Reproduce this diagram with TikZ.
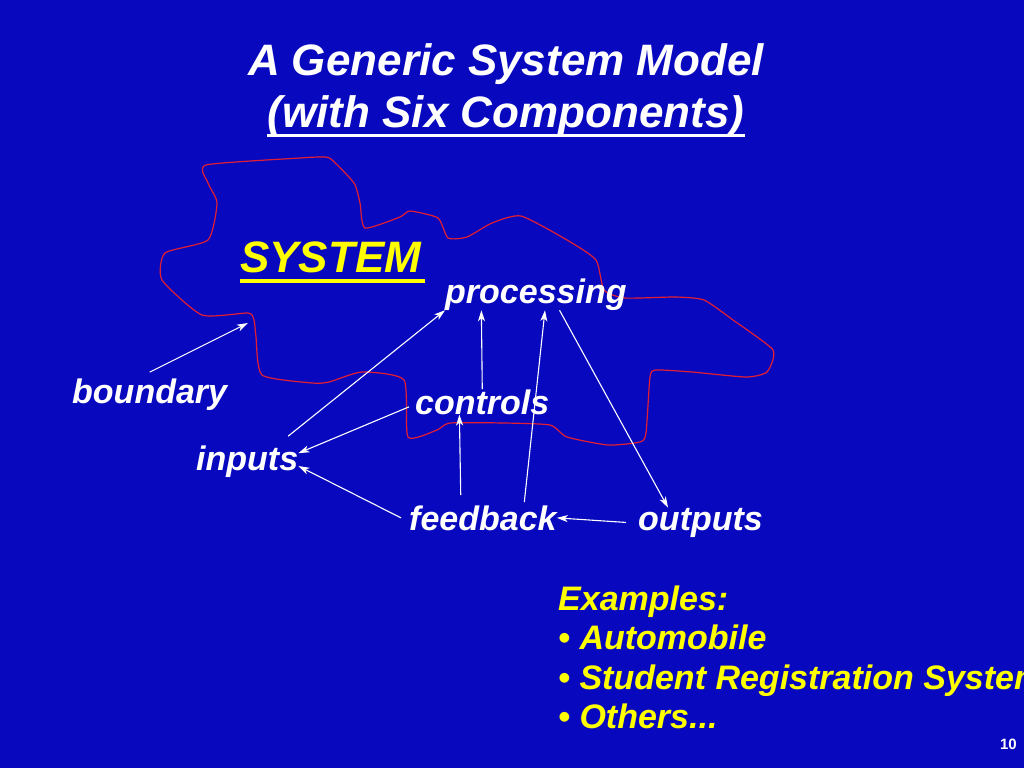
\documentclass[tikz,border=0pt]{standalone}
\usepackage{fontspec}
\setmainfont{Liberation Sans}
\usepackage{tikz}
\usetikzlibrary{positioning,calc,arrows.meta}
\usepackage{xcolor}
\definecolor{slideblue}{RGB}{8,8,190}
\definecolor{edgered}{RGB}{225,30,50}
\definecolor{sysyellow}{RGB}{255,255,0}

\begin{document}
\begin{tikzpicture}[
    x=1pt, y=-1pt,
    part/.style={anchor=base west, inner sep=0pt, text=white, font=\fontsize{34}{40}\selectfont\bfseries\itshape},
    heading/.style={anchor=base, inner sep=0pt, text=white, font=\fontsize{44}{52}\selectfont\bfseries\itshape},
    example/.style={part, text=sysyellow},
    link/.style={-{Stealth[length=11pt,width=7pt,inset=3pt]}, white, line width=1.1pt}
]
    % Slide background
    \fill[slideblue] (0,0) rectangle (1024,768);
    \useasboundingbox (0,0) rectangle (1024,768);
    \clip (0,0) rectangle (1024,768);

    % Title
    \node[heading] (title1) at (506,75) {A Generic System Model};
    \node[heading] (title2) at (506,127) {(with Six Components)};
    \draw[white, line width=3pt] ([yshift=-8pt]title2.base west) -- ([yshift=-8pt]title2.base east);

    % System boundary
    \draw[edgered, line width=1.2pt] plot[smooth cycle, tension=0.35] coordinates {
        (206,165) (300,158) (321,157) (331,159) (354,183) (360,203) (365,228)
        (400,217) (410,211) (438,218) (448,238) (467,237) (492,223) (521,216)
        (567,240) (596,260) (604,290) (625,298) (675,297) (704,300) (733,320)
        (773,350) (767,372) (746,377) (692,372) (656,370) (650,377) (646,433)
        (640,442) (608,445) (567,437) (550,425) (504,423) (450,423) (437,430)
        (408,437) (404,380) (362,372) (329,382) (312,383) (262,375) (256,337)
        (254,320) (248,313) (202,315) (162,280) (165,253) (208,240) (217,203)
        (208,183)};
    \coordinate (edgept) at (248,323);

    % Labels
    \node[part, text=sysyellow, font=\fontsize{44}{52}\selectfont\bfseries\itshape] (sys) at (240,272) {SYSTEM};
    \draw[sysyellow, line width=4pt] ([yshift=-9pt]sys.base west) -- ([yshift=-9pt,xshift=4pt]sys.base east);
    \node[part] (proc) at (445,303) {processing};
    \node[part] (bnd) at (72,403) {boundary};
    \node[part] (ctl) at (415,414) {controls};
    \node[part] (inp) at (196,470) {inputs};
    \node[part] (fb) at (409,530) {feedback};
    \node[part] (out) at (638,530) {outputs};

    % Connectors
    \draw[link] ([yshift=6pt]bnd.north) -- (edgept);
    \draw[link] ($(inp.north west)!0.9!(inp.north east)+(0,-9)$) -- (proc.south west);
    \draw[link] ([xshift=-6pt,yshift=-5pt]ctl.west) -- ($(inp.north east)!0.25!(inp.south east)$);
    \draw[link] ([xshift=-8pt]fb.west) -- ($(inp.north east)!0.65!(inp.south east)$);
    \draw[link] (ctl.north) -- ($(proc.south west)!0.2!(proc.south east)$);
    \draw[link] ($(fb.north west)!0.35!(fb.north east)+(0,-10)$) -- ($(ctl.south west)!0.33!(ctl.south east)$);
    \draw[link] ($(fb.north west)!0.78!(fb.north east)+(0,-3)$) -- ($(proc.south west)!0.55!(proc.south east)$);
    \draw[link] ($(proc.south west)!0.63!(proc.south east)$) -- ($(out.north west)!0.24!(out.north east)$);
    \draw[link] ([xshift=-12pt]out.west) -- (fb.east);

    % Examples
    \node[example] (ex0) at (558,610) {Examples:};
    \node[example] (ex1) at (558,649.5) {\textbullet\ Automobile};
    \node[example] (ex2) at (558,689) {\textbullet\ Student Registration System};
    \node[example] (ex3) at (558,728.5) {\textbullet\ Others...};

    % Slide number
    \node[anchor=base east, inner sep=0pt, text=white, font=\fontsize{15}{18}\selectfont\bfseries] (pgno) at (1017,749) {10};
\end{tikzpicture}
\end{document}
